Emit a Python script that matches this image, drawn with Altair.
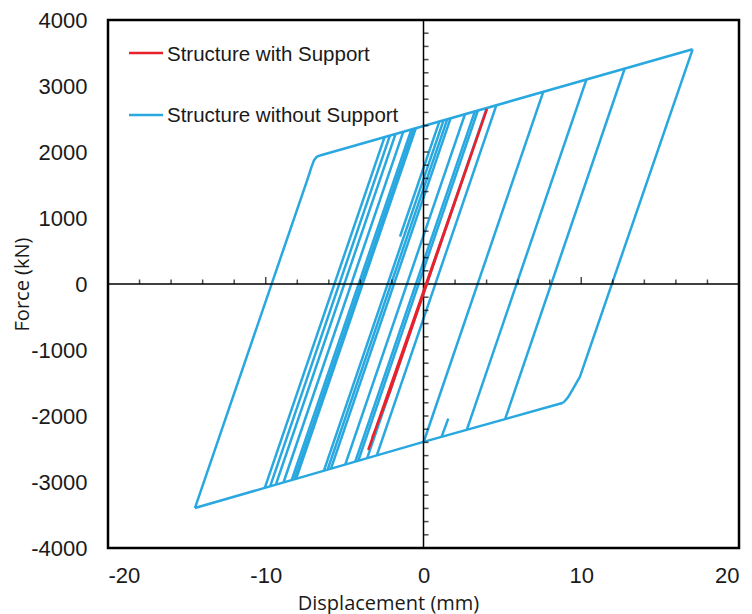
import altair as alt
import pandas as pd

# ---------------- data ----------------
# Envelope (hardening) lines of the structure without support
upper_env_x = [-6.56, 17.06]
upper_env_f = [1947, 3556]
lower_env_x = [-14.49, 0.0, 8.86]
lower_env_f = [-3395, -2392, -1800]

# Outer loop branches (with rounded knees)
outer_left_x = [-14.49, -7.35, -7.12, -6.95, -6.78, -6.56]
outer_left_f = [-3395, 1590, 1760, 1870, 1925, 1950]
outer_right_x = [8.86, 9.15, 9.45, 9.92, 17.06]
outer_right_f = [-1800, -1720, -1600, -1404, 3556]

# Inner elastic branches: lower end -> upper end
branch_x_lo = [-10.05, -9.71, -9.35, -8.86, -8.34, -8.18, -8.07, -6.30, -6.07, -5.86,
               -4.95, -4.32, -4.13, -3.57, -2.96, 0.01, 2.75, 5.19, -1.49, 1.15]
branch_f_lo = [-3081, -3059, -3031, -2996, -2961, -2954, -2947, -2821, -2807, -2793,
               -2730, -2688, -2674, -2639, -2597, -2394, -2205, -2037, 717, -2313]
branch_x_hi = [-2.47, -2.13, -1.77, -1.28, -0.76, -0.60, -0.49, 1.27, 1.51, 1.72,
               2.63, 3.26, 3.44, 4.01, 4.62, 7.59, 10.32, 12.76, 1.01, 1.57]
branch_f_hi = [2226, 2247, 2275, 2310, 2345, 2352, 2359, 2478, 2499, 2513,
               2573, 2618, 2625, 2667, 2709, 2912, 3094, 3269, 2463, -2040]

# Structure with support (red)
red_x = [-3.50, 4.00, -2.15, -3.25]
red_f = [-2515, 2636, -1640, -2330]

# Axis ticks
x_label_values = [-20, -10, 0, 10, 20]
y_label_values = [-4000, -3000, -2000, -1000, 0, 1000, 2000, 3000, 4000]
x_minor_ticks = [-18, -16, -14, -12, -8, -6, -4, -2, 2, 4, 6, 8, 12, 14, 16, 18]
x_major_ticks = [-10, 10]
y_minor_ticks = [v for v in range(-3800, 4000, 200) if v != 0]

# ---------------- build tables ----------------
rows = []
def add(seg, xs, fs):
    for i, (x, f) in enumerate(zip(xs, fs)):
        rows.append({"seg": seg, "i": i, "x": x, "f": f})

add("upper", upper_env_x, upper_env_f)
add("lower", lower_env_x, lower_env_f)
add("outerL", outer_left_x, outer_left_f)
add("outerR", outer_right_x, outer_right_f)
for k in range(len(branch_x_lo)):
    add(f"b{k}", [branch_x_lo[k], branch_x_hi[k]], [branch_f_lo[k], branch_f_hi[k]])
blue_df = pd.DataFrame(rows)

red_df = pd.DataFrame({"seg": "red", "i": list(range(len(red_x))), "x": red_x, "f": red_f})

one = pd.DataFrame({"x": [0], "f": [0]})
xmin_df = pd.DataFrame({"x": x_minor_ticks, "f": 0})
xmaj_df = pd.DataFrame({"x": x_major_ticks, "f": 0})
ymin_df = pd.DataFrame({"f": y_minor_ticks, "x": 0})

BLUE = "#29A8E0"
RED = "#E8212B"
TXT = "#1a1a1a"

xs = alt.Scale(domain=[-20, 20], nice=False, zero=False)
ys = alt.Scale(domain=[-4000, 4000], nice=False, zero=False)

x_axis = alt.Axis(values=x_label_values, title="Displacement (mm)", grid=False, domain=False,
                  ticks=False, tickSize=0, labelPadding=17, labelFont="Liberation Sans",
                  labelFontSize=22, labelColor=TXT, labelExpr="toString(datum.value)",
                  titleFont="Open Sans", titleFontSize=20, titleFontWeight="normal",
                  titleColor=TXT, titleX=280, titleY=61, titleBaseline="alphabetic",
                  titleAlign="center")
y_axis = alt.Axis(values=y_label_values, title="Force (kN)", grid=False, domain=False,
                  ticks=False, tickSize=0, labelPadding=21, labelFont="Liberation Sans",
                  labelFontSize=22, labelColor=TXT, labelExpr="toString(datum.value)",
                  titleFont="Open Sans", titleFontSize=20, titleFontWeight="normal",
                  titleColor=TXT, titleX=-86, titleY=264, titleAngle=-90,
                  titleBaseline="middle", titleAlign="center")

X = alt.X("x:Q", scale=xs, axis=x_axis)
Y = alt.Y("f:Q", scale=ys, axis=y_axis)

hline = alt.Chart(one).mark_rule(color="black", strokeWidth=1.5).encode(y=Y)
vline = alt.Chart(one).mark_rule(color="black", strokeWidth=1.5).encode(x=X)

xt_minor = alt.Chart(xmin_df).mark_tick(orient="vertical", size=4.5, thickness=1.5,
                                        yOffset=-2.25, color="black").encode(x=X, y=Y)
xt_major = alt.Chart(xmaj_df).mark_tick(orient="vertical", size=7, thickness=1.5,
                                        yOffset=-3.5, color="black").encode(x=X, y=Y)
yt_minor = alt.Chart(ymin_df).mark_tick(orient="horizontal", size=5, thickness=1.5,
                                        xOffset=2.5, color="black").encode(x=X, y=Y)

blue = alt.Chart(blue_df).mark_line(color=BLUE, strokeWidth=2.5, strokeJoin="round").encode(
    x=X, y=Y, detail="seg:N", order="i:Q")
red = alt.Chart(red_df).mark_line(color=RED, strokeWidth=2.5, strokeJoin="round").encode(
    x=X, y=Y, detail="seg:N", order="i:Q")

leg_red_line = alt.Chart(one).mark_rule(color=RED, strokeWidth=2.5).encode(
    x=alt.value(21), x2=alt.value(55), y=alt.value(33))
leg_blue_line = alt.Chart(one).mark_rule(color=BLUE, strokeWidth=2.5).encode(
    x=alt.value(21), x2=alt.value(55), y=alt.value(95))
leg_red_text = alt.Chart(one).mark_text(align="left", baseline="alphabetic",
                                        font="Liberation Sans", fontSize=20.5, color=TXT).encode(
    x=alt.value(59), y=alt.value(40.5), text=alt.value("Structure with Support"))
leg_blue_text = alt.Chart(one).mark_text(align="left", baseline="alphabetic",
                                         font="Liberation Sans", fontSize=20.5, color=TXT).encode(
    x=alt.value(59), y=alt.value(102), text=alt.value("Structure without Support"))

chart = alt.layer(
    blue, hline, vline, xt_minor, xt_major, yt_minor, red,
    leg_red_line, leg_blue_line, leg_red_text, leg_blue_text,
).properties(
    width=631, height=528,
    padding={"left": 108, "top": 20, "right": 13, "bottom": 66},
    autosize="none",
    background="white",
).configure_view(stroke="black", strokeWidth=2.5)

chart.save("out.html", embed_options={"renderer": "svg", "actions": False})
